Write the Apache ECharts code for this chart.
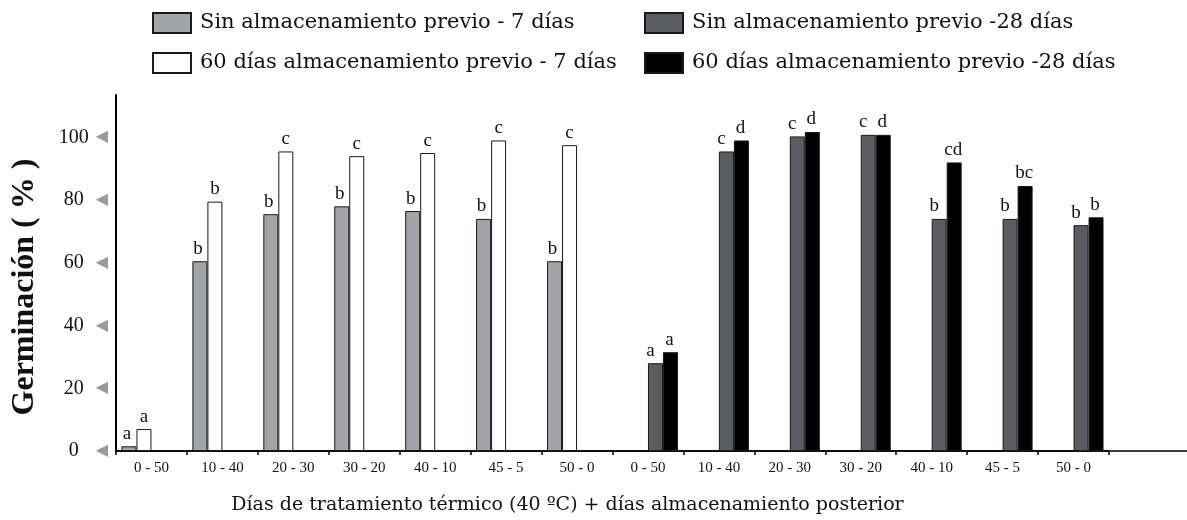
<!DOCTYPE html>
<html><head><meta charset="utf-8">
<script src="https://cdn.jsdelivr.net/npm/echarts@6/dist/echarts.min.js"></script>
<style>html,body{margin:0;padding:0;background:#fff}#c{width:1187px;height:520px}</style>
</head><body><div id="c"></div>
<script>
const categories = ['0 - 50','10 - 40','20 - 30','30 - 20','40 - 10','45 - 5','50 - 0',
                    '0 - 50','10 - 40','20 - 30','30 - 20','40 - 10','45 - 5','50 - 0'];
const seriesNames = ['Sin almacenamiento previo - 7 días','60 días almacenamiento previo - 7 días',
                     'Sin almacenamiento previo -28 días','60 días almacenamiento previo -28 días'];
const sin7   = [1.5, 60.5, 75.5, 78, 76.5, 74, 60.5, null, null, null, null, null, null, null];
const prev7  = [7, 79.5, 95.5, 94, 95, 99, 97.5, null, null, null, null, null, null, null];
const sin28  = [null, null, null, null, null, null, null, 28, 95.5, 100.3, 100.8, 74, 74, 72];
const prev28 = [null, null, null, null, null, null, null, 31.5, 99, 101.7, 100.8, 92, 84.5, 74.5];
const sin7Letters   = ['a','b','b','b','b','b','b','','','','','','',''];
const prev7Letters  = ['a','b','c','c','c','c','c','','','','','','',''];
const sin28Letters  = ['','','','','','','','a','c','c','c','b','b','b'];
const prev28Letters = ['','','','','','','','a','d','d','d','cd','bc','b'];
const yTickLabels = [0, 20, 40, 60, 80, 100];

const chart = echarts.init(document.getElementById('c'), null, {renderer: 'canvas'});
const serif = 'Liberation Serif';
const titleFont = 'DejaVu Serif';

function barSeries(name, data, letters, fill, offsetX) {
  return {
    name: name, type: 'bar', data: data, barWidth: 15, barGap: '0%',
    xAxisIndex: 0, yAxisIndex: 0,
    itemStyle: {color: fill, borderColor: '#1a1a1a', borderWidth: 1},
    label: {show: true, position: 'top', distance: 3, offset: [offsetX, 0],
            fontFamily: serif, fontSize: 19, color: '#111',
            formatter: p => letters[p.dataIndex]},
    emphasis: {disabled: true}, animation: false
  };
}
const colors = ['#a3a4a8', '#ffffff', '#5b5c60', '#000000'];
function legendAt(name, left, top) {
  return {data: [name], left: left, top: top, padding: 0, itemWidth: 38, itemHeight: 20,
          icon: 'rect', selectedMode: false,
          textStyle: {fontFamily: titleFont, fontSize: 21, color: '#111', padding: [0,0,0,4]}};
}

chart.setOption({
  animation: false,
  backgroundColor: '#fff',
  legend: [
    legendAt(seriesNames[0], 152, 12),
    legendAt(seriesNames[1], 152, 52),
    legendAt(seriesNames[2], 644, 12),
    legendAt(seriesNames[3], 644, 52)
  ],
  grid: [
    {left: 116, right: 78, top: 95, bottom: 69, containLabel: false, outerBoundsMode: 'none'},
    {left: 116, right: 0, top: 95, bottom: 69, containLabel: false, outerBoundsMode: 'none'}
  ],
  xAxis: [
    {type: 'category', data: categories, gridIndex: 0,
     axisLine: {show: true, lineStyle: {color: '#000', width: 1.5}},
     axisTick: {show: true, length: 4, lineStyle: {color: '#000', width: 1.5}},
     axisLabel: {fontFamily: serif, fontSize: 15, color: '#111', margin: 10, interval: 0},
     name: 'Días de tratamiento térmico (40 ºC) + días almacenamiento posterior',
     nameLocation: 'middle', nameGap: 45,
     nameTextStyle: {fontFamily: titleFont, fontSize: 19, color: '#111', padding: [0, 90, 0, 0]}},
    {type: 'value', gridIndex: 1, min: 0, max: 1,
     axisLine: {show: true, lineStyle: {color: '#000', width: 1.5}},
     axisTick: {show: false}, axisLabel: {show: false}, splitLine: {show: false}}
  ],
  yAxis: [
    {type: 'value', gridIndex: 0, min: 0, max: 113.5, interval: 20,
     axisLine: {show: true, lineStyle: {color: '#000', width: 2}},
     axisTick: {show: false}, splitLine: {show: false},
     axisLabel: {margin: 8,
       formatter: v => yTickLabels.indexOf(v) >= 0 ? '{v|' + v + '}{t|◀}' : '',
       rich: {v: {fontFamily: serif, fontSize: 20, color: '#111', width: 36, align: 'center'},
              t: {fontFamily: 'DejaVu Sans', fontSize: 16, color: '#9a9a9a', padding: [0,0,0,4]}}},
     name: 'Germinación ( % )', nameLocation: 'middle', nameRotate: 90, nameGap: 75,
     nameTextStyle: {fontFamily: serif, fontWeight: 'bold', fontSize: 32, color: '#111', padding: [0, 28, 0, 0]}},
    {type: 'value', gridIndex: 1, show: false}
  ],
  series: [
    barSeries(seriesNames[0], sin7, sin7Letters, colors[0], -2),
    barSeries(seriesNames[1], prev7, prev7Letters, colors[1], 0),
    barSeries(seriesNames[2], sin28, sin28Letters, colors[2], -5),
    barSeries(seriesNames[3], prev28, prev28Letters, colors[3], -1)
  ]
});
</script></body></html>
